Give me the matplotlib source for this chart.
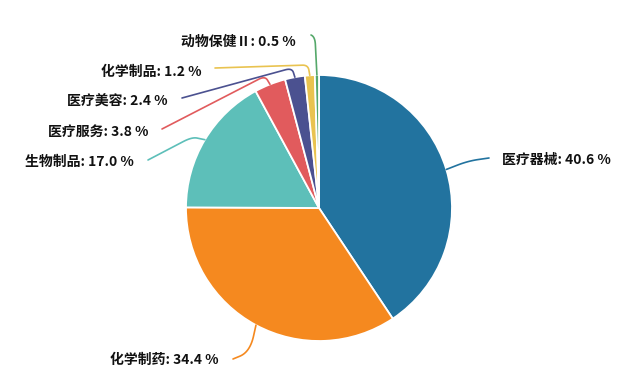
import numpy as np
import matplotlib
matplotlib.use("Agg")
import matplotlib.pyplot as plt

plt.rcParams['font.family'] = ['Noto Sans CJK SC', 'DejaVu Sans']

categories = ["医疗器械", "化学制药", "生物制品", "医疗服务", "医疗美容", "化学制品", "动物保健Ⅱ"]
values = [40.6, 34.4, 17.0, 3.8, 2.4, 1.2, 0.5]
colors = ["#22739f", "#f5891f", "#5dbfb9", "#e15b5d", "#4b5190", "#e9c350", "#55a86a"]

W, H = 640, 386
fig = plt.figure(figsize=(W / 100, H / 100), dpi=100)
ax = fig.add_axes([0, 0, 1, 1])

cx, cy, R = 319, H - 208, 133
ax.pie(values, colors=colors, startangle=90, counterclock=False,
       center=(cx, cy), radius=R, frame=True,
       wedgeprops=dict(edgecolor='white', linewidth=1.3))
ax.set_xlim(0, W)
ax.set_ylim(0, H)
ax.set_aspect('equal')
ax.axis('off')

# layout: leader corners / ends, rounding and label anchors (pixel coords, y down)
layout = [
    dict(p1=(468, 161), p2=(489, 158), r=(0.5, 0.5), text=(502, 160), ha='left'),
    dict(p1=(250, 352), p2=(233, 359), r=(0.6, 0.6), text=(219, 360), ha='right'),
    dict(p1=(192, 137), p2=(148, 160), r=(0.4, 0.2), text=(134, 162), ha='right'),
    dict(p1=(265, 76), p2=(162, 129), r=(0.5, 0.06), text=(148, 132), ha='right'),
    dict(p1=(292, 68), p2=(182, 98), r=(0.5, 0.06), text=(168, 102), ha='right'),
    dict(p1=(308, 65), p2=(215, 68), r=(0.5, 0.06), text=(202, 72), ha='right'),
    dict(p1=(315, 37), p2=(311, 35), r=(0.2, 0.9), text=(296, 42), ha='right'),
]

total = sum(values)
cum = 0.0
t = np.linspace(0, 1, 30)[:, None]
for cat, v, c, lay in zip(categories, values, colors, layout):
    mid = cum + v / 2
    cum += v
    ang = np.deg2rad(90 - 360 * mid / total)
    p0 = np.array([cx + R * np.cos(ang), cy + R * np.sin(ang)])
    p1 = np.array([lay['p1'][0], H - lay['p1'][1]], dtype=float)
    p2 = np.array([lay['p2'][0], H - lay['p2'][1]], dtype=float)
    ra, rb = lay['r']
    a = p0 + (1 - ra) * (p1 - p0)
    b = p1 + rb * (p2 - p1)
    curve = (1 - t) ** 2 * a + 2 * (1 - t) * t * p1 + t ** 2 * b
    pts = np.vstack([p0, curve, p2])
    ax.plot(pts[:, 0], pts[:, 1], color=c, linewidth=1.2,
            solid_joinstyle='round', solid_capstyle='round')
    ax.text(lay['text'][0], H - lay['text'][1], f"{cat}: {v:.1f} %",
            ha=lay['ha'], va='center', fontsize=10, fontweight='bold',
            color='#111111')

fig.savefig("out.png", dpi=100, facecolor='white')
